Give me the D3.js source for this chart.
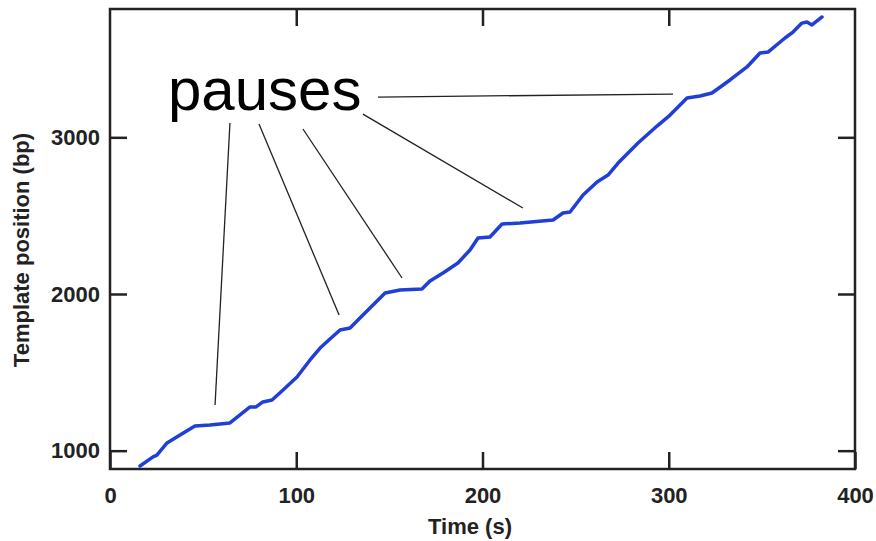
<!DOCTYPE html>
<html>
<head>
	<meta charset="utf-8">
	<title>Template position vs time</title>
	<script src="https://cdn.jsdelivr.net/npm/d3@7/dist/d3.min.js"></script>
	<style>
		body { margin: 0; background: #fff; }
		.tick text { font-family: "Liberation Sans", Arial, sans-serif; font-weight: bold; font-size: 22px; fill: #222; }
		.tick line { stroke: #222; stroke-width: 2.5px; }
		.title { font-family: "Liberation Sans", Arial, sans-serif; font-weight: bold; font-size: 22px; fill: #222; }
	</style>
</head>
<body>
	<svg id="chart" width="876" height="541"></svg>

	<script type="text/javascript">
		// time (s) and template position (bp)
		var times = [16.1, 23.1, 25.2, 30.6, 37.6, 45.6, 53.7, 64.4, 69.8, 75.2, 78.4, 82.1, 87.0, 92.9,
			100.4, 107.4, 112.8, 118.1, 123.5, 128.9, 134.2, 139.6, 147.7, 155.7, 167.5, 171.8, 178.8,
			186.8, 193.3, 197.6, 204.0, 210.5, 220.1, 237.9, 243.2, 247.0, 254.0, 261.5, 267.4, 272.8,
			283.5, 293.7, 300.7, 309.8, 316.8, 323.2, 332.9, 342.0, 349.0, 353.3, 362.4, 366.7, 371.5,
			374.2, 376.9, 382.3];
		var positions = [902, 960, 972, 1049, 1100, 1157, 1164, 1177, 1228, 1279, 1279, 1311, 1323, 1387,
			1470, 1579, 1655, 1713, 1770, 1783, 1847, 1911, 2006, 2025, 2032, 2083, 2134,
			2198, 2281, 2357, 2364, 2447, 2453, 2472, 2517, 2523, 2632, 2715, 2759, 2836,
			2964, 3072, 3142, 3251, 3264, 3283, 3366, 3449, 3538, 3544, 3634, 3672, 3729,
			3736, 3717, 3768];

		var xTicks = [0, 100, 200, 300, 400];
		var yTicks = [1000, 2000, 3000];

		// "pauses" label and its leader lines (from label -> pause on trace)
		var labelText = 'pauses';
		var labelPos = [31.1, 3174];
		var leaderFrom = [[64.4, 3091], [80.0, 3085], [103.6, 3053], [135.8, 3148], [143.9, 3257]];
		var leaderTo = [[56.4, 1291], [123.0, 1866], [156.8, 2102], [221.7, 2549], [302.3, 3276]];

		var svg = d3.select('#chart'),
			margin = { top: 9, right: 21, bottom: 72, left: 110 },
			width = +svg.attr('width') - margin.left - margin.right,
			height = +svg.attr('height') - margin.top - margin.bottom;

		var g = svg.append('g')
			.attr('transform', 'translate(' + margin.left + ',' + margin.top + ')');

		var x = d3.scaleLinear().domain([0, 400]).range([0, width]);
		var y = d3.scaleLinear().domain([883, 3819]).range([height, 0]);

		// axes with inward ticks on all four sides
		g.append('g')
			.attr('transform', 'translate(0,' + height + ')')
			.call(d3.axisBottom(x).tickValues(xTicks).tickFormat(d3.format('d')).tickSize(-17).tickPadding(18))
			.call(a => a.select('.domain').remove());
		g.append('g')
			.call(d3.axisLeft(y).tickValues(yTicks).tickFormat(d3.format('d')).tickSize(-17).tickPadding(10))
			.call(a => a.select('.domain').remove());
		g.append('g')
			.call(d3.axisTop(x).tickValues(xTicks.slice(1, -1)).tickSize(-17).tickFormat(''))
			.call(a => a.select('.domain').remove());
		g.append('g')
			.attr('transform', 'translate(' + width + ',0)')
			.call(d3.axisRight(y).tickValues(yTicks).tickSize(-17).tickFormat(''))
			.call(a => a.select('.domain').remove());

		g.append('rect')
			.attr('width', width)
			.attr('height', height)
			.attr('fill', 'none')
			.attr('stroke', '#222')
			.attr('stroke-width', 2.5);

		// trace
		var line = d3.line()
			.x(i => x(times[i]))
			.y(i => y(positions[i]));

		g.append('path')
			.datum(d3.range(times.length))
			.attr('d', line)
			.attr('fill', 'none')
			.attr('stroke', '#1f3fd6')
			.attr('stroke-width', 3.5)
			.attr('stroke-linejoin', 'round')
			.attr('stroke-linecap', 'round');

		// annotation
		g.selectAll('.leader')
			.data(leaderFrom)
			.enter()
			.append('line')
			.attr('class', 'leader')
			.attr('x1', d => x(d[0]))
			.attr('y1', d => y(d[1]))
			.attr('x2', (d, i) => x(leaderTo[i][0]))
			.attr('y2', (d, i) => y(leaderTo[i][1]))
			.attr('stroke', '#222')
			.attr('stroke-width', 1.3);

		g.append('text')
			.attr('x', x(labelPos[0]))
			.attr('y', y(labelPos[1]))
			.attr('font-family', '"Liberation Sans", Arial, sans-serif')
			.attr('font-size', 60)
			.attr('fill', '#000')
			.text(labelText);

		// axis titles
		svg.append('text')
			.attr('class', 'title')
			.attr('x', 470)
			.attr('y', 534)
			.attr('text-anchor', 'middle')
			.text('Time (s)');

		svg.append('text')
			.attr('class', 'title')
			.attr('transform', 'translate(29,250) rotate(-90)')
			.attr('text-anchor', 'middle')
			.text('Template position (bp)');
	</script>
</body>
</html>
